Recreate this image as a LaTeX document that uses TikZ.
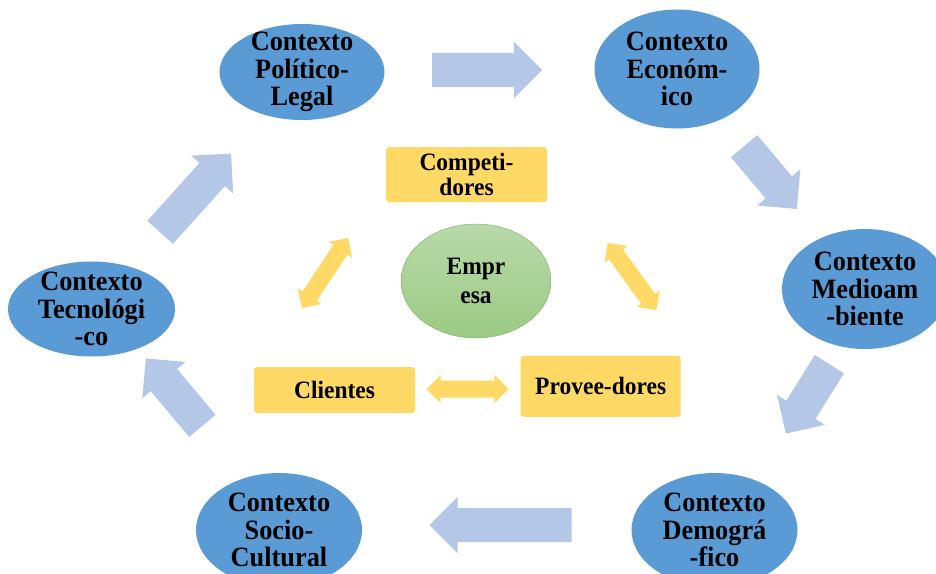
\documentclass[tikz,border=0pt]{standalone}
\usepackage{fontspec}
\setmainfont[FakeStretch=0.94]{Liberation Serif}
\usetikzlibrary{shapes.geometric,shapes.arrows}

\definecolor{ctxblue}{HTML}{5B9BD5}
\definecolor{arrblue}{HTML}{B4C7E7}
\definecolor{boxgold}{HTML}{FFD966}
\definecolor{empA}{HTML}{B8D9A9}
\definecolor{empB}{HTML}{9CCA84}
\definecolor{empline}{HTML}{7CB35A}

\tikzset{
  ctx/.style={ellipse,fill=ctxblue,inner sep=-20pt,align=center,
              font=\fontsize{28}{27.5}\selectfont\bfseries},
  agent/.style={rectangle,rounded corners=3pt,fill=boxgold,inner sep=0pt,
                minimum width=161,align=center,
                font=\fontsize{25}{25}\selectfont\bfseries},
  bigarrow/.style={single arrow,fill=arrblue,inner xsep=0pt,inner ysep=17pt,
                   single arrow head extend=11pt,minimum width=56,anchor=tail},
  twoway/.style={double arrow,fill=boxgold,inner xsep=0pt,inner ysep=8.3pt,
                 double arrow head extend=5.7pt,minimum width=28}
}

\begin{document}
\begin{tikzpicture}[x=1pt,y=-1pt]
    \useasboundingbox (0,0) rectangle (936,573);

    % entorno
    \node[ctx,minimum width=165,minimum height=96](pl) at (302,72){Contexto\\Político-\\Legal};
    \node[ctx,minimum width=165,minimum height=119](ec) at (677,69){Contexto\\Económ-\\ico};
    \node[ctx,minimum width=166,minimum height=120](ma) at (865,289){Contexto\\Medioam\\-biente};
    \node[ctx,minimum width=166,minimum height=114](dm) at (714.5,530){Contexto\\Demográ\\-fico};
    \node[ctx,minimum width=166,minimum height=114](sc) at (279,530){Contexto\\Socio-\\Cultural};
    \node[ctx,minimum width=167,minimum height=95](tc) at (91.5,309){Contexto\\Tecnológi\\-co};

    \node[bigarrow,minimum height=110](a1) at (432,70){};
    \node[bigarrow,minimum height=82,rotate=-50](a2) at (744,146){};
    \node[bigarrow,minimum height=82,rotate=-122](a3) at (829.5,364){};
    \node[bigarrow,minimum height=142,rotate=180](a4) at (571.7,525){};
    \node[bigarrow,minimum height=88,rotate=130](a5) at (202.5,426){};
    \node[bigarrow,minimum height=106,rotate=48](a6) at (160,232.5){};

    % empresa y agentes
    \node[ellipse,draw=empline,top color=empA,bottom color=empB,inner sep=-20pt,
          minimum width=150,minimum height=114,align=center,
          font=\fontsize{25}{29}\selectfont\bfseries](emp) at (476,281){Empr\\esa};
    \node[agent,minimum height=55](comp) at (466.5,174.5){Competi-\\dores};
    \node[agent,minimum height=46](cli) at (334.5,390){Clientes};
    \node[agent,minimum width=160,minimum height=61](prov) at (600.7,386.3){Provee-dores};

    \node[twoway,minimum height=82](d1) at (467.5,389){};
    \node[twoway,minimum height=84,rotate=56.5](d2) at (325,273){};
    \node[twoway,minimum height=83,rotate=-54](d3) at (632,276.5){};

\end{tikzpicture}
\end{document}
